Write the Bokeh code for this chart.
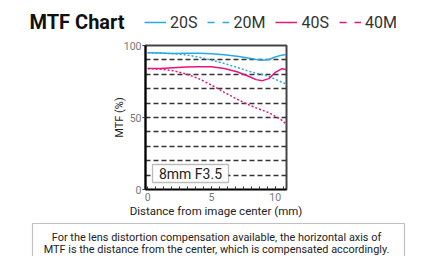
from bokeh.plotting import figure
from bokeh.layouts import column
from bokeh.models import (Range1d, FixedTicker, Legend, LegendItem, Label,
                          BoxAnnotation, ColumnDataSource)
from bokeh.embed import file_html
from bokeh.resources import INLINE

# ---------------- data ----------------
x_mm = [0, 1, 2, 3, 4, 5, 6, 7, 8, 8.5, 9, 9.5, 10, 10.5, 10.85]
mtf_20s = [95, 94.8, 94.5, 94.7, 94.6, 94.2, 93.5, 92.5, 91.2, 90.3, 89.8, 90.3, 92, 93.3, 93.8]
mtf_20m = [95, 94.8, 94.3, 93.5, 92, 89.8, 87.5, 84.8, 82, 80.8, 79.8, 78.6, 76.5, 74.6, 73.3]
mtf_40s = [84, 84, 84.5, 85, 85.3, 85.2, 84, 81.8, 78.3, 76.3, 75.6, 77, 81.3, 83.8, 83.3]
mtf_40m = [84, 83.6, 82.5, 80.3, 77, 72.5, 67.5, 62.7, 58.5, 56.7, 55, 53.3, 50.8, 48.2, 45.5]

series_names = ["20S", "20M", "40S", "40M"]
x_ticks = [0, 5, 10]
x_minor_ticks = [i * 0.625 for i in range(1, 18)]
y_ticks = [0, 50, 100]
grid_levels = [10, 20, 30, 40, 50, 60, 70, 80, 90]

title_text = "MTF Chart"
lens_text = "8mm F3.5"
note_lines = ["For the lens distortion compensation available, the horizontal axis of",
              "MTF is the distance from the center, which is compensated accordingly."]

CYAN = "#2aa9e0"
MAGENTA = "#e4157f"
FONT = "Roboto"
W = 413


def no_align(f):
    try:
        f.frame_align = False
    except Exception:
        pass


def blank(h):
    f = figure(width=W, height=h, output_backend="svg", toolbar_location=None,
               x_range=Range1d(0, W), y_range=Range1d(0, h),
               x_axis_location=None, y_axis_location=None,
               min_border_left=0, min_border_right=0,
               min_border_top=0, min_border_bottom=0)
    f.grid.visible = False
    f.outline_line_color = None
    f.background_fill_color = "white"
    f.border_fill_color = "white"
    no_align(f)
    return f


src = ColumnDataSource(dict(x=x_mm, s20=mtf_20s, m20=mtf_20m, s40=mtf_40s, m40=mtf_40m))

# ---------------- header: title + legend ----------------
top = blank(40)
top.add_layout(Label(x=29, y=19, text=title_text, text_font=FONT,
                     text_font_size="20px", text_font_style="bold",
                     text_color="#111111", text_baseline="middle", text_align="left"))
# legend renderers: same data, lying outside this header's ranges (only the legend shows)
r1 = top.line("x", "s20", source=src, color=CYAN, line_width=1.5)
r2 = top.line("x", "m20", source=src, color=CYAN, line_width=1.5, line_dash="7 8")
r3 = top.line("x", "s40", source=src, color=MAGENTA, line_width=1.5)
r4 = top.line("x", "m40", source=src, color=MAGENTA, line_width=1.5, line_dash="7 8")
legend = Legend(items=[LegendItem(label=n, renderers=[r]) for n, r in
                       zip(series_names, [r1, r2, r3, r4])],
                orientation="horizontal", location=(144, 8),
                glyph_width=22, glyph_height=20, label_height=20,
                label_standoff=4, spacing=10, padding=0, margin=0,
                border_line_alpha=0, background_fill_alpha=0,
                label_text_font=FONT, label_text_font_size="16px",
                label_text_color="#333333")
top.add_layout(legend, "center")

# ---------------- main chart ----------------
p = figure(width=W, height=180, output_backend="svg", toolbar_location=None,
           x_range=Range1d(-0.17, 10.88), y_range=Range1d(0, 100),
           min_border_left=145, min_border_right=W - 286, min_border_top=5,
           min_border_bottom=29)
no_align(p)
p.background_fill_color = "white"
p.border_fill_color = "white"
p.outline_line_color = "#444444"
p.outline_line_width = 2

p.xgrid.visible = False
p.ygrid.ticker = FixedTicker(ticks=grid_levels)
p.ygrid.grid_line_color = "#333333"
p.ygrid.grid_line_width = 1.4
p.ygrid.grid_line_dash = "5 3"

xa = p.xaxis[0]
xa.ticker = FixedTicker(ticks=x_ticks, minor_ticks=x_minor_ticks)
xa.axis_line_color = "black"
xa.axis_line_width = 1.5
xa.major_tick_in = 3
xa.major_tick_out = 0
xa.minor_tick_in = 3
xa.minor_tick_out = 0
xa.major_tick_line_color = "#333333"
xa.minor_tick_line_color = "#333333"
xa.major_label_standoff = 3
xa.major_label_text_font = FONT
xa.major_label_text_font_size = "10.5px"
xa.major_label_text_color = "#777777"
xa.axis_label = "Distance from image center (mm)"
xa.axis_label_text_font = FONT
xa.axis_label_text_font_size = "11.5px"
xa.axis_label_text_font_style = "normal"
xa.axis_label_text_color = "#222222"
xa.axis_label_standoff = 0

ya = p.yaxis[0]
ya.ticker = FixedTicker(ticks=y_ticks)
ya.axis_line_color = "black"
ya.axis_line_width = 2
ya.major_tick_in = 0
ya.major_tick_out = 3
ya.minor_tick_line_color = None
ya.major_tick_line_color = "#333333"
ya.major_label_standoff = 1
ya.major_label_text_font = FONT
ya.major_label_text_font_size = "10.5px"
ya.major_label_text_color = "#777777"
ya.axis_label = "MTF (%)"
ya.axis_label_text_font = FONT
ya.axis_label_text_font_size = "11px"
ya.axis_label_text_font_style = "normal"
ya.axis_label_text_color = "#222222"
ya.axis_label_standoff = -5

p.line("x", "s20", source=src, color=CYAN, line_width=1.5)
p.line("x", "m20", source=src, color=CYAN, line_width=1.5, line_dash="2 2")
p.line("x", "s40", source=src, color=MAGENTA, line_width=1.5)
p.line("x", "m40", source=src, color=MAGENTA, line_width=1.5, line_dash="2 2")

p.add_layout(BoxAnnotation(left=7, right=83, bottom=7, top=25,
                           left_units="screen", right_units="screen",
                           bottom_units="screen", top_units="screen",
                           fill_color="white", fill_alpha=1,
                           line_color="#222222", line_width=1.3))
p.add_layout(Label(x=45, y=16, x_units="screen", y_units="screen", text=lens_text,
                   text_font=FONT, text_font_size="14px", text_color="#222222",
                   text_baseline="middle", text_align="center"))

# ---------------- footer note ----------------
bottom = blank(36)
bottom.add_layout(BoxAnnotation(left=32, right=404, top=33, bottom=-20,
                                fill_alpha=0, line_color="#333333", line_width=1.2))
for i, line in enumerate(note_lines):
    bottom.add_layout(Label(x=216, y=19.3 - 12.6 * i, text=line, text_font=FONT,
                            text_font_size="10.9px", text_color="#222222",
                            text_baseline="middle", text_align="center"))

layout = column(top, p, bottom, spacing=0)
open("out.html", "w").write(file_html(layout, INLINE))
